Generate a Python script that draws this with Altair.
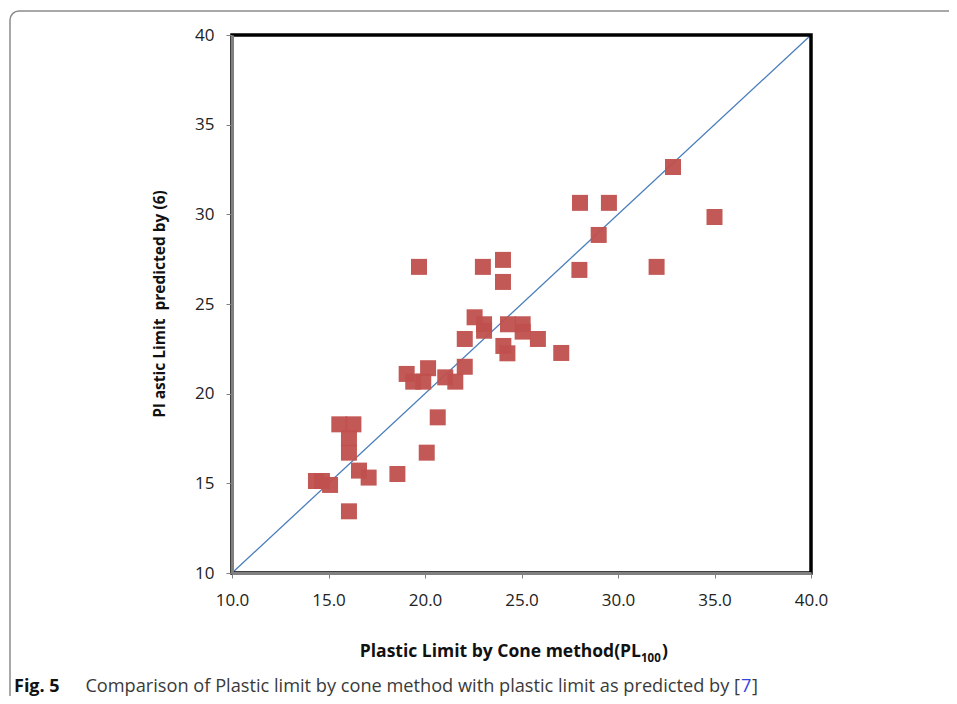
import altair as alt
import pandas as pd

# Data
cone_pl = [35.0, 32.85, 32.0, 29.53, 28.03, 29.0, 28.0, 27.06, 19.69, 23.0,
           24.04, 24.04, 22.57, 23.06, 23.06, 22.06, 24.30, 25.06, 25.06, 25.85,
           24.06, 24.27, 22.06, 19.05, 19.39, 20.16, 19.91, 21.05, 21.57, 20.66,
           20.09, 15.56, 16.29, 16.06, 16.06, 16.58, 17.08, 18.57, 14.35, 14.66,
           15.08, 16.06]
predicted_pl = [29.85, 32.64, 27.07, 30.64, 30.64, 28.85, 26.9, 22.27, 27.07, 27.07,
                27.46, 26.23, 24.26, 23.87, 23.51, 23.05, 23.87, 23.87, 23.46, 23.05,
                22.66, 22.25, 21.5, 21.10, 20.67, 21.42, 20.67, 20.91, 20.67, 18.68,
                16.71, 18.29, 18.29, 17.51, 16.71, 15.71, 15.32, 15.52, 15.13, 15.13,
                14.91, 13.44]
line_x = [10, 40]
line_y = [10, 40]
x_ticks = [10, 15, 20, 25, 30, 35, 40]
y_ticks = [10, 15, 20, 25, 30, 35, 40]

pts = pd.DataFrame({"x": cone_pl, "y": predicted_pl})
ln = pd.DataFrame({"x": line_x, "y": line_y})

W, H = 579, 538
OX, OY = 232, 35  # page position of plot origin

FONT = "Open Sans"

xs = alt.Scale(domain=[10, 40], nice=False, zero=False)
ys = alt.Scale(domain=[10, 40], nice=False, zero=False)

xaxis = alt.Axis(values=x_ticks, format=".1f", grid=False, title=None,
                 labelFontSize=17, labelFont=FONT, labelColor="#222",
                 domainColor="#808080", domainWidth=3, tickColor="#808080",
                 tickSize=5, labelPadding=14, zindex=1, labelFlush=False,
                 labelOverlap=False)
yaxis = alt.Axis(values=y_ticks, format="d", grid=False, title=None,
                 labelFontSize=17, labelFont=FONT, labelColor="#222",
                 domainColor="#808080", domainWidth=3, tickColor="#808080",
                 tickSize=6, labelPadding=12, zindex=1, labelFlush=False,
                 labelOverlap=False)

# plot border (thick black box)
border = alt.Chart(pd.DataFrame({"a": [0]})).mark_rect(
    fill=None, stroke="black", strokeWidth=3.5
).encode(x=alt.value(0), y=alt.value(0), x2=alt.value(W), y2=alt.value(H))

line = alt.Chart(ln).mark_line(color="#4A7EBB", strokeWidth=1.3).encode(
    x=alt.X("x:Q", scale=xs, axis=xaxis),
    y=alt.Y("y:Q", scale=ys, axis=yaxis),
)

points = alt.Chart(pts).mark_square(size=256, color="#C0504D", opacity=0.95).encode(
    x=alt.X("x:Q", scale=xs),
    y=alt.Y("y:Q", scale=ys),
)

def txt(text, px, py, size=15, weight="normal", color="#231f20", align="left",
        angle=0, baseline="alphabetic", font=FONT):
    return alt.Chart(pd.DataFrame({"t": [text]})).mark_text(
        text=text, fontSize=size, fontWeight=weight, color=color, align=align,
        angle=angle, baseline=baseline, font=font,
    ).encode(x=alt.value(px - OX), y=alt.value(py - OY))

# outer figure frame (rounded corner)
frame = alt.Chart(pd.DataFrame({"a": [0]})).mark_rect(
    fill=None, stroke="#8c8c8c", strokeWidth=1.5, cornerRadius=9
).encode(x=alt.value(10 - OX), y=alt.value(11 - OY),
         x2=alt.value(990 - OX), y2=alt.value(760 - OY))

xtitle_main = txt("Plastic Limit by Cone method(PL", 641, 657, size=17.5,
                  weight="bold", color="#111", align="right")
xtitle_sub = txt("100", 641, 662, size=11.5, weight="bold", color="#111")
xtitle_end = txt(")", 662, 657, size=17.5, weight="bold", color="#111")

ytitle = txt("Pl astic Limit\u00a0\u00a0predicted by (6)", 160, 304, size=15.5,
             weight="bold", color="#111", align="center", angle=270,
             baseline="middle")

cap_fig = txt("Fig. 5", 14, 692, size=18, weight="bold", color="#111")
cap_main = txt("Comparison of Plastic limit by cone method with plastic limit as predicted by [",
               740, 692, size=18.2, color="#3a3a3a", align="right")
cap_ref = txt("7", 741, 692, size=18.2, color="#3344dd")
cap_end = txt("]", 752, 692, size=18.2, color="#3a3a3a")

chart = alt.layer(
    frame, line, points, border, xtitle_main, xtitle_sub, xtitle_end, ytitle,
    cap_fig, cap_main, cap_ref, cap_end
).properties(
    width=W, height=H,
    autosize=alt.AutoSizeParams(type="none"),
    padding={"left": OX - 8, "top": OY - 8, "right": 941 - (OX - 8) - W,
             "bottom": 688 - (OY - 8) - H},
).configure_view(
    stroke=None
).configure(background="white")

chart.save("out.html", embed_options={"renderer": "svg", "actions": False})
